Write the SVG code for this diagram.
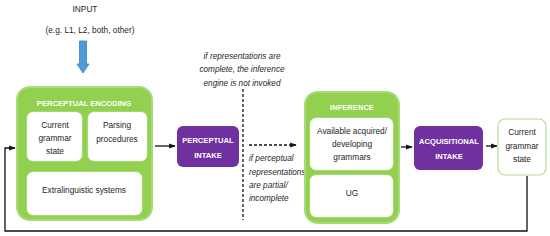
<svg xmlns="http://www.w3.org/2000/svg" width="550" height="236" viewBox="0 0 550 236">
<defs>
<style>
text{font-family:"Liberation Sans",Arial,sans-serif;fill:#262626;font-size:8.3px}
.t{text-anchor:middle}
.w{fill:#fff;font-weight:bold;font-size:7.6px;text-anchor:middle}
.i{font-style:italic;font-size:8.2px}
.g{fill:#92d050;stroke:#a8da78;stroke-width:2}
.in{fill:#fff;stroke:#e6f2dc;stroke-width:0.5}
.p{fill:#7030a0}
.c{stroke:#111;stroke-width:1.3;fill:none}
</style>
<marker id="a" viewBox="0 0 10 10" refX="9" refY="5" markerWidth="5" markerHeight="5" orient="auto"><path d="M0,1 L10,5 L0,9 z" fill="#111"/></marker>
</defs>
<g id="input">
<text class="t" x="85" y="12">INPUT</text>
<text class="t" x="90" y="33">(e.g. L1, L2, both, other)</text>
<path d="M79.5,41 H86.5 V64 H89 L83,73 L77,64 H79.5 Z" fill="#4e9bd5" stroke="#3a7fc0" stroke-width="0.8"/>
</g>
<g id="perceptual-encoding">
<rect class="g" x="17" y="87" width="135" height="133" rx="13"/>
<text class="w" x="84" y="106">PERCEPTUAL ENCODING</text>
<rect class="in" x="27" y="112" width="55" height="49" rx="6"/>
<text class="t" x="55" y="128">Current</text>
<text class="t" x="55" y="141">grammar</text>
<text class="t" x="55" y="154">state</text>
<rect class="in" x="88" y="112" width="59" height="49" rx="6"/>
<text class="t" x="117" y="128">Parsing</text>
<text class="t" x="117" y="142">procedures</text>
<rect class="in" x="27" y="172" width="115" height="43" rx="6"/>
<text class="t" x="84" y="193">Extralinguistic systems</text>
</g>
<g id="perceptual-intake">
<rect class="p" x="177" y="126" width="62" height="41" rx="6"/>
<text class="w" x="208" y="143">PERCEPTUAL</text>
<text class="w" x="208" y="158">INTAKE</text>
</g>
<g id="notes">
<text class="i t" x="242" y="59">if representations are</text>
<text class="i t" x="242" y="72">complete, the inference</text>
<text class="i t" x="242" y="86">engine is not invoked</text>
<text class="i" x="249" y="161">if perceptual</text>
<text class="i" x="249" y="175">representations</text>
<text class="i" x="249" y="188">are partial/</text>
<text class="i" x="249" y="201">incomplete</text>
</g>
<g id="inference">
<rect class="g" x="305" y="92" width="94" height="131" rx="13"/>
<text class="w" x="352" y="110">INFERENCE</text>
<rect class="in" x="310" y="118" width="83" height="52" rx="6"/>
<text class="t" x="352" y="134">Available acquired/</text>
<text class="t" x="352" y="147">developing</text>
<text class="t" x="352" y="160">grammars</text>
<rect class="in" x="310" y="175" width="83" height="42" rx="6"/>
<text class="t" x="352" y="196">UG</text>
</g>
<g id="acquisitional-intake">
<rect class="p" x="414" y="126" width="69" height="44" rx="6"/>
<text class="w" x="449" y="144">ACQUISITIONAL</text>
<text class="w" x="449" y="159">INTAKE</text>
</g>
<g id="current-grammar-state">
<rect x="498" y="119" width="48" height="56" rx="7" fill="#fff" stroke="#b5dc95" stroke-width="1.2"/>
<text class="t" x="522" y="135">Current</text>
<text class="t" x="522" y="149">grammar</text>
<text class="t" x="522" y="162">state</text>
</g>
<g id="connectors">
<path class="c" d="M155,146 H175" marker-end="url(#a)"/>
<path d="M243,89 V220" stroke="#111" stroke-width="1.3" stroke-dasharray="3,2" fill="none"/>
<path d="M249,145 H296" stroke="#111" stroke-width="1.3" stroke-dasharray="3,2" fill="none" marker-end="url(#a)"/>
<path class="c" d="M401,147 H412" marker-end="url(#a)"/>
<path class="c" d="M486,146 H497" marker-end="url(#a)"/>
<path class="c" d="M527,176 V231 H5 V148 H15" marker-end="url(#a)"/>
</g>
</svg>
